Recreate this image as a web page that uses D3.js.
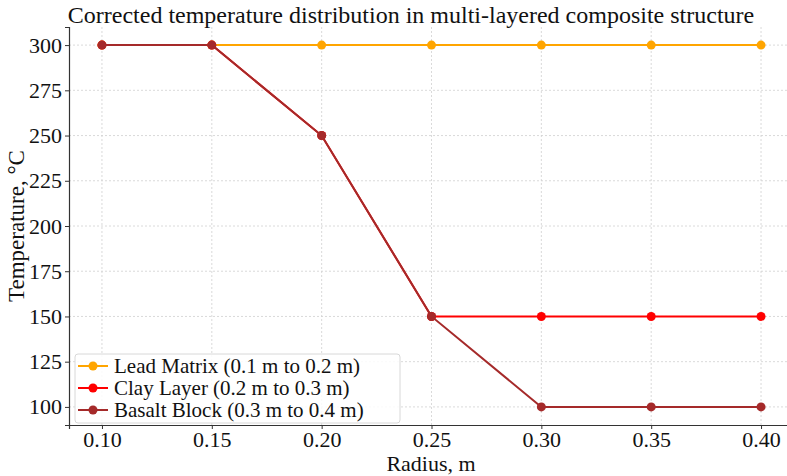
<!DOCTYPE html>
<html>
<head>
<meta charset="utf-8">
<script src="https://cdn.jsdelivr.net/npm/d3@7"></script>
<style>
  body { margin: 0; background: #fff; }
  text { font-family: "Liberation Serif", "Times New Roman", serif; fill: #111; }
</style>
</head>
<body>
<div id="chart"></div>
<script>
// data
const radius = [0.10, 0.15, 0.20, 0.25, 0.30, 0.35, 0.40];
const leadMatrix = [300, 300, 300, 300, 300, 300, 300];
const clayLayer = [300, 300, 250, 150, 150, 150, 150];
const basaltBlock = [300, 300, 250, 150, 100, 100, 100];
const seriesNames = ["Lead Matrix (0.1 m to 0.2 m)", "Clay Layer (0.2 m to 0.3 m)", "Basalt Block (0.3 m to 0.4 m)"];
const seriesColors = ["#ffa500", "#ff0000", "#a52a2a"];
const xTicks = [0.10, 0.15, 0.20, 0.25, 0.30, 0.35, 0.40];
const yTicks = [100, 125, 150, 175, 200, 225, 250, 275, 300];

const width = 787, height = 476;
const margin = {top: 27, right: -7, bottom: 51, left: 69};
const plotW = width - margin.left - margin.right;
const plotH = height - margin.top - margin.bottom;

let svg = d3.select("#chart")
    .append("svg")
    .attr("width", width)
    .attr("height", height);

let g = svg.append("g")
    .attr("transform", `translate(${margin.left}, ${margin.top})`);

let x = d3.scaleLinear().domain([0.085, 0.415]).range([0, plotW]);
let y = d3.scaleLinear().domain([90, 310]).range([plotH, 0]);

// grid
g.append("g").selectAll("line").data(xTicks).enter().append("line")
    .attr("x1", d => x(d)).attr("x2", d => x(d))
    .attr("y1", 0).attr("y2", plotH)
    .attr("stroke", "#d0d0d0").attr("stroke-width", 0.8).attr("stroke-dasharray", "2,2");
g.append("g").selectAll("line").data(yTicks).enter().append("line")
    .attr("x1", 0).attr("x2", plotW)
    .attr("y1", d => y(d)).attr("y2", d => y(d))
    .attr("stroke", "#d0d0d0").attr("stroke-width", 0.8).attr("stroke-dasharray", "2,2");

// axes
let xAxis = g.append("g")
    .attr("transform", `translate(0, ${plotH})`)
    .call(d3.axisBottom(x).tickValues(xTicks).tickFormat(d3.format(".2f")).tickSize(4).tickPadding(2));
let yAxis = g.append("g")
    .call(d3.axisLeft(y).tickValues(yTicks).tickSize(4).tickPadding(3));

[xAxis, yAxis].forEach(a => {
    a.attr("font-size", null).attr("font-family", null);
    a.select(".domain").attr("stroke", "#333").attr("stroke-width", 1.2);
    a.selectAll(".tick line").attr("stroke", "#333");
    a.selectAll("text").style("font-size", "22px").attr("fill", "#111");
});

// lines
const allSeries = [leadMatrix, clayLayer, basaltBlock];
let line = d3.line().x((d, i) => x(radius[i])).y(d => y(d));

allSeries.forEach((vals, k) => {
    g.append("path")
        .datum(vals)
        .attr("fill", "none")
        .attr("stroke", seriesColors[k])
        .attr("stroke-width", 2)
        .attr("d", line);
    g.append("g").selectAll("circle").data(vals).enter().append("circle")
        .attr("cx", (d, i) => x(radius[i]))
        .attr("cy", d => y(d))
        .attr("r", 4.5)
        .attr("fill", seriesColors[k]);
});

// legend
let legend = g.append("g").attr("transform", `translate(6, ${plotH - 71})`);
legend.append("rect")
    .attr("width", 325).attr("height", 69)
    .attr("rx", 3)
    .attr("fill", "#fff").attr("fill-opacity", 0.85)
    .attr("stroke", "#d8d8d8");
seriesNames.forEach((name, k) => {
    let row = legend.append("g").attr("transform", `translate(3, ${12 + k * 22})`);
    row.append("line").attr("x1", 0).attr("x2", 30)
        .attr("stroke", seriesColors[k]).attr("stroke-width", 2);
    row.append("circle").attr("cx", 15).attr("r", 4.5).attr("fill", seriesColors[k]);
    row.append("text").attr("x", 36).attr("dy", "0.33em")
        .style("font-size", "21px").text(name);
});

// title and labels
svg.append("text")
    .attr("x", 411).attr("y", 23)
    .style("text-anchor", "middle")
    .style("font-size", "24px")
    .text("Corrected temperature distribution in multi-layered composite structure");

svg.append("text")
    .attr("x", 431).attr("y", 471)
    .style("text-anchor", "middle")
    .style("font-size", "22px")
    .text("Radius, m");

svg.append("text")
    .attr("transform", `translate(24, ${margin.top + plotH / 2}) rotate(-90)`)
    .style("text-anchor", "middle")
    .style("font-size", "23px")
    .text("Temperature, °C");
</script>
</body>
</html>
